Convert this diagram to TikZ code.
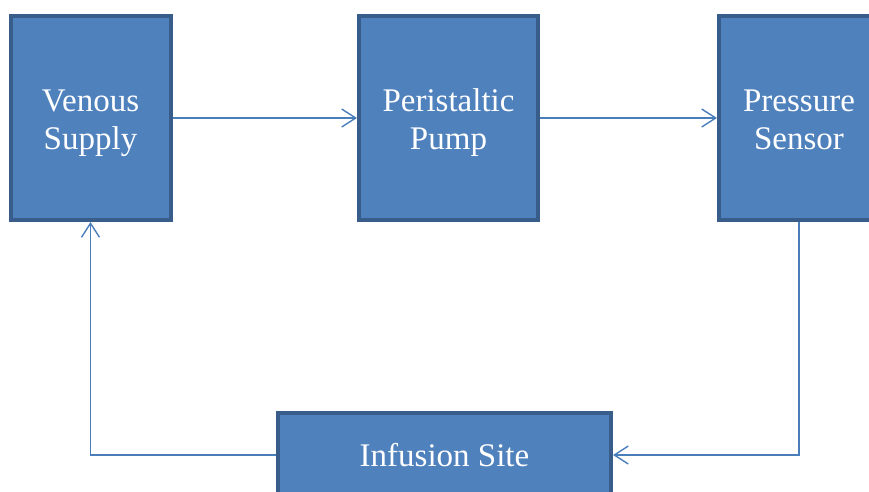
\documentclass[tikz,border=0pt]{standalone}
\usepackage{fontspec}
\setmainfont{Liberation Serif}
\usetikzlibrary{arrows.meta,positioning}
\definecolor{boxfill}{HTML}{4F81BD}
\definecolor{boxline}{HTML}{385D8A}
\definecolor{flowline}{HTML}{4A7EBB}

\begin{document}
\begin{tikzpicture}[x=1pt,y=1pt,
  block/.style={rectangle, draw=boxline, fill=boxfill, line width=4pt, text=white, align=center,
    font=\fontsize{33}{38}\selectfont, text height=62pt, text depth=0pt,
    minimum width=160pt, minimum height=204pt, inner sep=0pt},
  flow/.style={draw=flowline, line width=1.4pt},
  >={Straight Barb[length=14pt,width=18pt,line width=1.4pt]}]
  \useasboundingbox (0,0) rectangle (869,-491);
  \node[block] (venous) at (90.5,-118) {Venous\\Supply};
  \node[block, minimum width=179pt] (pump) at (448.5,-118) {Peristaltic\\Pump};
  \node[block] (sensor) at (799,-118) {Pressure\\Sensor};
  \node[block, minimum width=333pt, minimum height=84pt, text height=22pt] (site) at (444.5,-455) {Infusion Site};
  \draw[flow,->] (venous) -- (pump);
  \draw[flow,->] (pump) -- (sensor);
  \draw[flow,->] (sensor.south) |- (site.east);
  \draw[flow,->] (site.west) -| (venous.south);
\end{tikzpicture}
\end{document}
